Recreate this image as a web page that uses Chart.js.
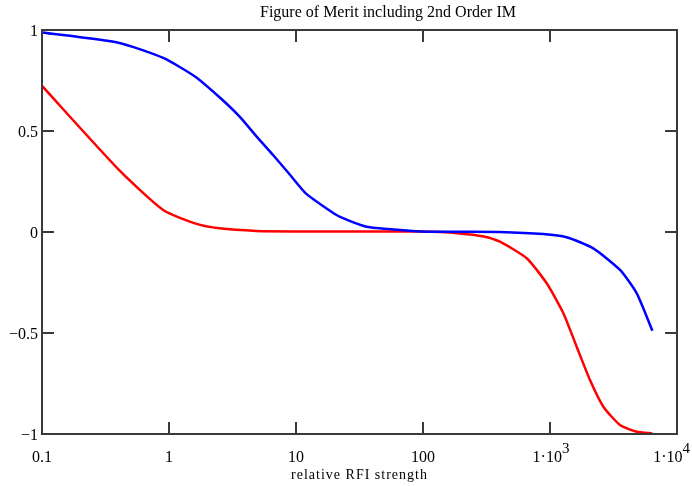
<!DOCTYPE html>
<html>
<head>
<meta charset="utf-8">
<script src="https://cdn.jsdelivr.net/npm/chart.js@4.4.1/dist/chart.umd.min.js"></script>
<style>
  html, body { margin: 0; padding: 0; background: #fff; }
  #wrap { width: 692px; height: 486px; position: relative; }
</style>
</head>
<body>
<div id="wrap"><canvas id="c" width="692" height="486"></canvas></div>
<script>
// ---- data ----
const chartTitle = "Figure of Merit including 2nd Order IM";
const xAxisTitle = "relative RFI strength";

const xTickValues = [0.1, 1, 10, 100, 1000, 10000];
const xTickLabels = ["0.1", "1", "10", "100", "1·10³", "1·10⁴"];
const yTickValues = [-1, -0.5, 0, 0.5, 1];
const yTickLabels = ["−1", "−0.5", "0", "0.5", "1"];

const blueX = [0.1, 0.4, 0.9, 1.6, 2.5, 3.6, 4.9, 6.6, 9, 12, 18.5, 22, 36, 66, 95, 200, 400, 885, 1350, 2190, 3560, 4820, 6400];
const blueY = [0.988, 0.937, 0.862, 0.770, 0.667, 0.571, 0.472, 0.381, 0.282, 0.19, 0.105, 0.076, 0.026, 0.01, 0.003, 0.001, 0.0, -0.01, -0.026, -0.081, -0.188, -0.304, -0.489];

const redX = [0.1, 0.4, 0.9, 1.6, 2.5, 4.9, 10, 100, 195, 300, 403, 655, 942, 1274, 1622, 2065, 2630, 3557, 4819, 6397];
const redY = [0.723, 0.31, 0.109, 0.043, 0.018, 0.005, 0.003, 0.002, -0.007, -0.022, -0.048, -0.13, -0.254, -0.402, -0.568, -0.733, -0.865, -0.955, -0.989, -0.997];

const toPts = (xs, ys) => xs.map((x, i) => ({ x: x, y: ys[i] }));

const FONT = "Liberation Serif";
const FRAME = "#3a3a3a";
const SUP = { "⁰": "0", "¹": "1", "²": "2", "³": "3", "⁴": "4", "⁵": "5", "⁶": "6", "⁷": "7", "⁸": "8", "⁹": "9" };

const framePlugin = {
  id: "frameAndTicks",
  afterDatasetsDraw(chart) {
    const { ctx, chartArea: a, scales } = chart;
    const xs = scales.x, ys = scales.y;
    const L = 12;
    ctx.save();
    ctx.strokeStyle = FRAME;
    ctx.lineWidth = 2;
    ctx.beginPath();
    xTickValues.forEach(v => {
      const px = xs.getPixelForValue(v);
      ctx.moveTo(px, a.top); ctx.lineTo(px, a.top + L);
      ctx.moveTo(px, a.bottom); ctx.lineTo(px, a.bottom - L);
    });
    yTickValues.forEach(v => {
      const py = ys.getPixelForValue(v);
      ctx.moveTo(a.left, py); ctx.lineTo(a.left + L, py);
      ctx.moveTo(a.right, py); ctx.lineTo(a.right - L, py);
    });
    ctx.stroke();
    ctx.strokeRect(a.left, a.top, a.right - a.left, a.bottom - a.top);
    ctx.fillStyle = "#000";
    ctx.textBaseline = "alphabetic";
    // x tick labels (with raised exponents)
    const baseFont = "16px '" + FONT + "'";
    const supFont = "15px '" + FONT + "'";
    ctx.textAlign = "left";
    xTickValues.forEach((v, i) => {
      const lab = xTickLabels[i];
      let base = "", sup = "";
      for (const ch of lab) { if (SUP[ch]) sup += SUP[ch]; else base += ch; }
      ctx.font = baseFont; const wb = ctx.measureText(base).width;
      ctx.font = supFont; const ws = sup ? ctx.measureText(sup).width : 0;
      const w = wb + ws;
      let x0 = xs.getPixelForValue(v) - w / 2 + (sup ? 1 : 0);
      x0 = Math.min(x0, chart.width - 2 - w);
      const yb = a.bottom + 28;
      ctx.font = baseFont; ctx.fillText(base, x0, yb);
      if (sup) { ctx.font = supFont; ctx.fillText(sup, x0 + wb, yb - 9); }
    });
    // title
    ctx.textAlign = "center";
    ctx.textBaseline = "middle";
    ctx.font = "16px '" + FONT + "'";
    ctx.fillText(chartTitle, 388, 13);
    // x axis title
    ctx.font = "14px '" + FONT + "'";
    if ("letterSpacing" in ctx) ctx.letterSpacing = "1px";
    ctx.fillText(xAxisTitle, (a.left + a.right) / 2, 475);
    ctx.restore();
  }
};

new Chart(document.getElementById("c"), {
  type: "line",
  data: {
    datasets: [
      { data: toPts(blueX, blueY), borderColor: "#0000ff", borderWidth: 2.5, pointRadius: 0, tension: 0.2, fill: false },
      { data: toPts(redX, redY), borderColor: "#ff0000", borderWidth: 2.5, pointRadius: 0, tension: 0.2, fill: false }
    ]
  },
  options: {
    responsive: false,
    animation: false,
    events: [],
    layout: { padding: { top: 30, right: 15, left: 0, bottom: 0 } },
    plugins: { legend: { display: false }, tooltip: { enabled: false }, title: { display: false } },
    scales: {
      x: {
        type: "logarithmic",
        min: 0.1, max: 10000,
        afterBuildTicks: s => { s.ticks = xTickValues.map(v => ({ value: v })); },
        afterFit: s => { s.height = 52; s.paddingLeft = 0; s.paddingRight = 0; },
        grid: { display: false, drawTicks: false },
        border: { display: false },
        ticks: { display: false },
        title: { display: false }
      },
      y: {
        type: "linear",
        min: -1, max: 1,
        afterBuildTicks: s => { s.ticks = yTickValues.map(v => ({ value: v })); },
        afterFit: s => { s.width = 42; s.paddingTop = 0; s.paddingBottom = 0; },
        grid: { display: false, drawTicks: false },
        border: { display: false },
        ticks: {
          autoSkip: false, padding: 4, color: "#000", labelOffset: 2,
          font: { family: FONT, size: 16 },
          callback: (v) => { const i = yTickValues.indexOf(v); return i >= 0 ? yTickLabels[i] : ""; }
        }
      }
    }
  },
  plugins: [framePlugin]
});
</script>
</body>
</html>
